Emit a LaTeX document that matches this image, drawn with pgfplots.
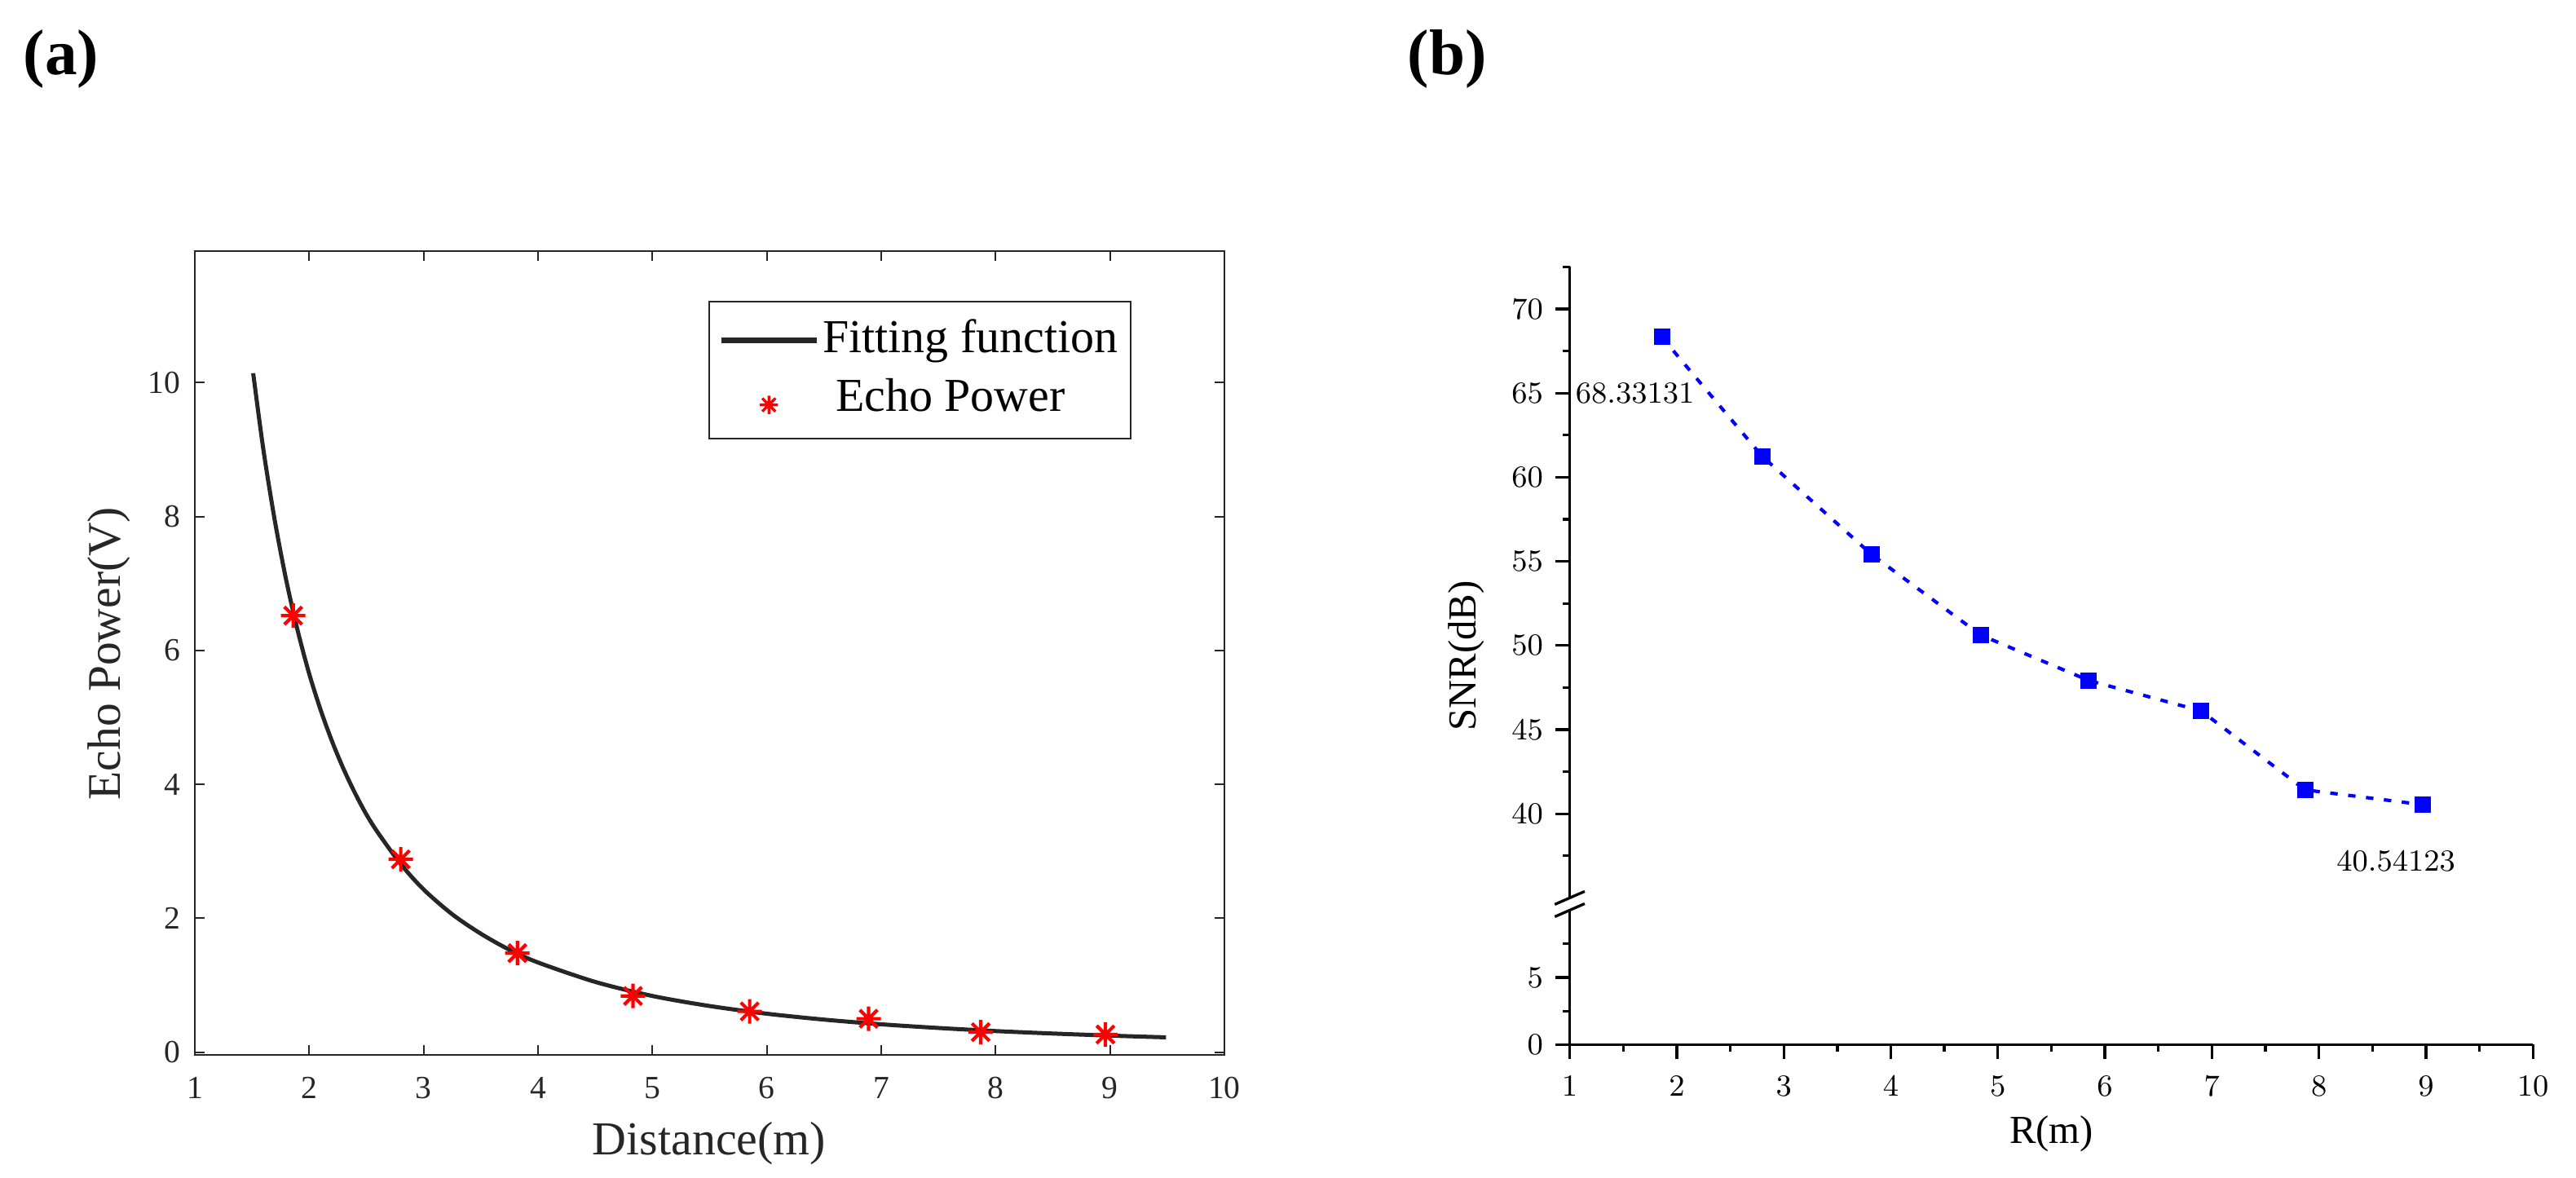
\documentclass[border=0pt]{standalone}
\usepackage{fontspec}
\setmainfont{Liberation Serif}
\usepackage{pgfplots}
\pgfplotsset{compat=1.18}
\definecolor{axgray}{HTML}{262626}
\definecolor{pureblue}{RGB}{0,0,255}
\definecolor{purered}{RGB}{255,0,0}
\pgfdeclareplotmark{mstar}{%
  \pgfpathmoveto{\pgfqpoint{0pt}{\pgfplotmarksize}}\pgfpathlineto{\pgfqpoint{0pt}{-\pgfplotmarksize}}%
  \pgfpathmoveto{\pgfqpoint{\pgfplotmarksize}{0pt}}\pgfpathlineto{\pgfqpoint{-\pgfplotmarksize}{0pt}}%
  \pgfpathmoveto{\pgfqpoint{0.72\pgfplotmarksize}{0.72\pgfplotmarksize}}\pgfpathlineto{\pgfqpoint{-0.72\pgfplotmarksize}{-0.72\pgfplotmarksize}}%
  \pgfpathmoveto{\pgfqpoint{-0.72\pgfplotmarksize}{0.72\pgfplotmarksize}}\pgfpathlineto{\pgfqpoint{0.72\pgfplotmarksize}{-0.72\pgfplotmarksize}}%
  \pgfusepathqstroke}
\pgfplotsset{
  fitleg/.style={legend image code/.code={\draw[##1, line width=1.7pt] (0pt,0pt) -- (28pt,0pt);}},
  starleg/.style={legend image code/.code={\draw[##1, mark size=2.7pt, mark options={line width=0.8pt}, mark repeat=2, mark phase=2] plot coordinates {(0pt,-1.5pt) (14pt,-1.5pt) (28pt,-1.5pt)};}},
}
\begin{document}
\begin{tikzpicture}
\path (0pt,0pt) rectangle (758.4pt,-346.8pt);
% ---------------- panel (a) ----------------
\begin{axis}[
  at={(57.36pt,-310.56pt)}, anchor=south west,
  width=303.12pt, height=236.57pt, scale only axis,
  xmin=1, xmax=10, ymin=-0.04, ymax=11.96,
  xtick={1,...,10}, ytick={0,2,4,6,8,10},
  tick align=inside, tick pos=both,
  major tick length=2.9pt,
  axis line style={draw=axgray, line width=0.45pt},
  every tick/.style={draw=axgray, line width=0.45pt},
  ticklabel style={font=\fontsize{9.5}{11}\selectfont, text=axgray},
  /pgf/number format/assume math mode=true,
  xticklabel style={yshift=-3pt},
  yticklabel style={xshift=-0.8pt},
  legend style={at={(0.4986,0.9384)}, anchor=north west, draw=axgray,
    line width=0.45pt, font=\fontsize{13.9}{16}\selectfont,
    inner xsep=2.8pt, inner ysep=2.9pt, row sep=0.5pt, column sep=0pt,
    nodes={inner xsep=1pt, inner ysep=2pt, text height=10pt, text depth=3pt}},
  legend cell align=left,
]
\addplot[color=axgray, line width=1.2pt, smooth, fitleg]
  coordinates {
  (1.51,10.14) (1.6,8.99) (1.7,7.93) (1.8,7.04) (1.9,6.29) (2.0,5.65)
  (2.1,5.11) (2.2,4.64) (2.3,4.23) (2.4,3.87) (2.5,3.55) (2.6,3.28)
  (2.8,2.81) (3.0,2.43) (3.25,2.06) (3.5,1.77) (3.75,1.53) (4.0,1.34)
  (4.5,1.05) (5.0,0.84) (5.5,0.69) (6.0,0.575) (6.5,0.487) (7.0,0.417)
  (7.5,0.362) (8.0,0.316) (8.5,0.279) (9.0,0.248) (9.49,0.222)};
\addlegendentry{Fitting function}
\addplot[only marks, color=purered, mark=mstar, mark size=3.6pt,
  mark options={line width=1pt}, starleg]
  coordinates {
  (1.86,6.52) (2.80,2.88) (3.82,1.48) (4.83,0.84)
  (5.85,0.61) (6.89,0.50) (7.87,0.30) (8.96,0.265)};
\addlegendentry{\hspace*{3.8pt}Echo Power}
\end{axis}
\node[rotate=90, anchor=base, font=\fontsize{13.8}{16}\selectfont, text=axgray] at (35.5pt,-192.4pt) {Echo Power(V)};
\node[anchor=base, font=\fontsize{13.9}{16}\selectfont, text=axgray] at (208.8pt,-340.08pt) {Distance(m)};
% ---------------- panel (b) upper ----------------
\begin{axis}[
  at={(462.14pt,-264.34pt)}, anchor=south west,
  width=283.6pt, height=185.76pt, scale only axis,
  xmin=1, xmax=10, ymin=35, ymax=72.5,
  axis x line=none, axis y line=left, axis line style={-, line width=0.8pt},
  ytick={40,45,...,70}, minor ytick={37.5,42.5,47.5,52.5,57.5,62.5,67.5,72.5},
  tick align=outside, major tick length=4.3pt, minor tick length=2pt,
  every tick/.style={black, line width=0.8pt},
  ticklabel style={font=\fontsize{9.5}{11}\selectfont},
  clip=false,
]
\addplot[color=pureblue, line width=1pt, dash pattern=on 2.2pt off 3.1pt,
  mark=square*, mark size=2.25pt, mark options={solid, fill=pureblue, line width=0.3pt}]
  coordinates {
  (1.86,68.33131) (2.80,61.23) (3.82,55.41) (4.84,50.62)
  (5.85,47.92) (6.90,46.11) (7.87,41.42) (8.97,40.54123)};
\node[font=\fontsize{8.8}{10}\selectfont] at (axis cs:1.61,65) {$68.33131$};
\node[font=\fontsize{8.8}{10}\selectfont] at (axis cs:8.72,37.16) {$40.54123$};
\end{axis}
% ---------------- panel (b) lower ----------------
\begin{axis}[
  at={(462.14pt,-307.56pt)}, anchor=south west,
  width=283.6pt, height=39.6pt, scale only axis,
  xmin=1, xmax=10, ymin=0, ymax=10,
  axis x line=bottom, axis y line=left, axis line style={-, line width=0.8pt},
  xtick={1,...,10}, minor xtick={1.5,2.5,3.5,4.5,5.5,6.5,7.5,8.5,9.5},
  ytick={0,5}, minor ytick={2.5,7.5},
  tick align=outside, major tick length=4.3pt, minor tick length=2pt,
  every tick/.style={black, line width=0.8pt},
  ticklabel style={font=\fontsize{9.5}{11}\selectfont},
  xticklabel style={yshift=-1.5pt},
]
\addplot[draw=none] coordinates {(1,0) (10,10)};
\end{axis}
% axis break marks
\draw[line width=0.8pt] (457.74pt,-266.26pt) -- (466.54pt,-262.42pt);
\draw[line width=0.8pt] (457.74pt,-269.88pt) -- (466.54pt,-266.04pt);
\node[rotate=90, anchor=base, font=\fontsize{11.7}{14}\selectfont] at (434.5pt,-193.1pt) {SNR(dB)};
\node[anchor=base, font=\fontsize{11.7}{14}\selectfont] at (604pt,-336.7pt) {R(m)};
% panel labels
\node[font=\fontsize{19}{22}\selectfont\bfseries] at (18pt,-17.3pt) {(a)};
\node[font=\fontsize{19}{22}\selectfont\bfseries] at (426pt,-17.3pt) {(b)};
\pgfresetboundingbox
\path[use as bounding box] (0pt,0pt) rectangle (758.4pt,-346.8pt);
\end{tikzpicture}
\end{document}
